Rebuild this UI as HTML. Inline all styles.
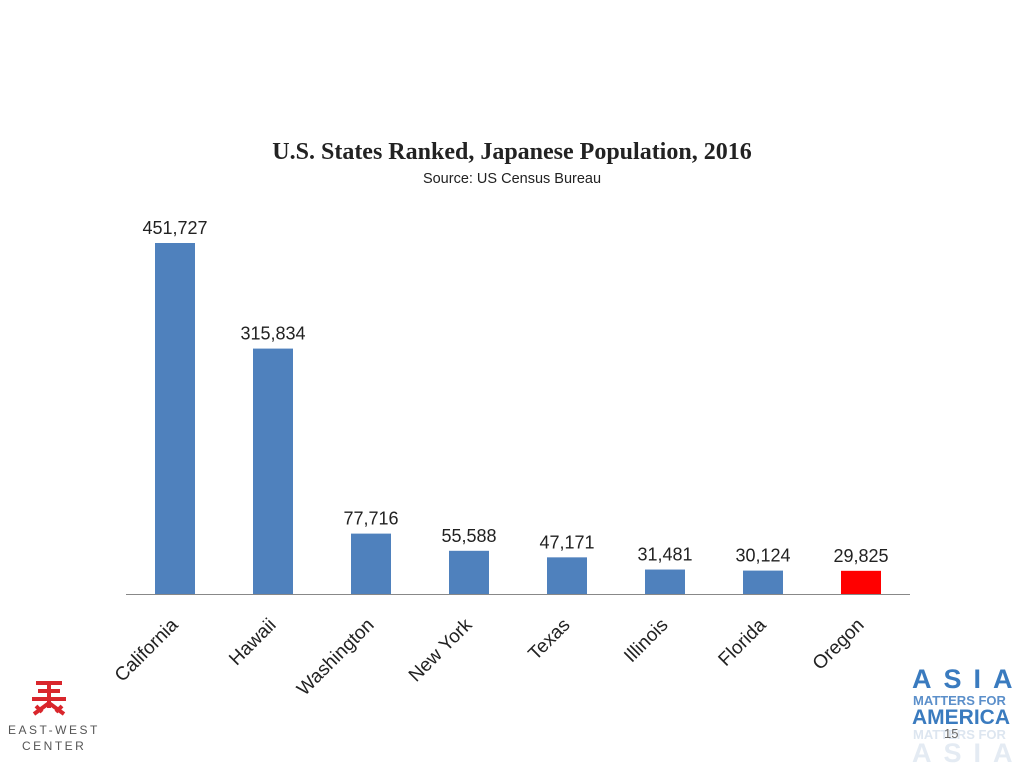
<!DOCTYPE html>
<html><head><meta charset="utf-8"><style>
body{margin:0;width:1024px;height:768px;background:#fff;font-family:"Liberation Sans",sans-serif;position:relative;overflow:hidden}
.t{position:absolute;white-space:nowrap}
</style></head><body>
<div class="t" style="left:0;width:1024px;top:139px;text-align:center;font-family:'Liberation Serif',serif;font-weight:bold;font-size:24px;color:#222">U.S. States Ranked, Japanese Population, 2016</div>
<div class="t" style="left:0;width:1024px;top:171px;text-align:center;font-size:14.5px;color:#222">Source: US Census Bureau</div>
<svg id="c" width="1024" height="768" style="position:absolute;left:0;top:0"></svg>
<div style="position:absolute;left:6px;top:678px;width:84px;height:75px">
<svg width="84" height="40" style="position:absolute;left:0;top:0"><g stroke="#d9262c" stroke-width="4" fill="none"><line x1="30" y1="5" x2="56" y2="5"/><line x1="32" y1="13" x2="54" y2="13"/><line x1="26" y1="21" x2="60" y2="21"/><line x1="43" y1="5" x2="43" y2="30"/><path d="M43 25 L28 36 M43 25 L58 36 M30 28 L36 34 M56 28 L50 34"/></g></svg>
<div class="t" style="left:2px;top:45px;font-size:12px;letter-spacing:2.5px;color:#555">EAST-WEST</div>
<div class="t" style="left:16px;top:61px;font-size:12px;letter-spacing:2.5px;color:#555">CENTER</div>
</div>
<div style="position:absolute;left:912px;top:664px;width:110px;font-weight:bold;color:#3a7bbf">
<div class="t" style="left:0;top:0;font-size:27px;letter-spacing:12px">ASIA</div>
<div class="t" style="left:1px;top:29px;font-size:13px;color:#5b8fca">MATTERS FOR</div>
<div class="t" style="left:0;top:42px;font-size:21px">AMERICA</div>
<div class="t" style="left:1px;top:63px;font-size:13px;color:#dde6f0">MATTERS FOR</div>
<div class="t" style="left:0;top:74px;font-size:27px;letter-spacing:12px;color:#e4ebf3">ASIA</div>
</div>
<div class="t" style="left:944px;top:726px;font-size:13px;color:#666">15</div>
<script>
const categories=["California","Hawaii","Washington","New York","Texas","Illinois","Florida","Oregon"];
const values=[451727,315834,77716,55588,47171,31481,30124,29825];
const labels=["451,727","315,834","77,716","55,588","47,171","31,481","30,124","29,825"];
const colors=["#4f81bd","#4f81bd","#4f81bd","#4f81bd","#4f81bd","#4f81bd","#4f81bd","#ff0000"];
const svg=document.getElementById('c');const NS="http://www.w3.org/2000/svg";
const x0=126,x1=910,base=594,ymax=451727,hmax=351;
const step=(x1-x0)/categories.length;
const xc=i=>x0+step*(i+0.5);
const yv=v=>base-v/ymax*hmax;
function mk(t,a){const e=document.createElementNS(NS,t);for(const k in a)e.setAttribute(k,a[k]);svg.appendChild(e);return e;}
const ax=mk('line',{x1:x0,x2:x1,y1:base+0.5,y2:base+0.5,stroke:'#888','stroke-width':1});


categories.forEach((c,i)=>{
 const r=mk('rect',{x:xc(i)-20,y:yv(values[i]),width:40,height:base-yv(values[i]),fill:colors[i]});
 
 
 const t=mk('text',{x:xc(i),y:yv(values[i])-9,'text-anchor':'middle','font-size':18,fill:'#222','font-family':'Liberation Sans, sans-serif'});
 t.textContent=labels[i];
 
 
 const l=mk('text',{x:0,y:0,'text-anchor':'end','font-size':19,fill:'#222','font-family':'Liberation Sans, sans-serif',transform:`translate(${xc(i)+4},${base+32}) rotate(-45)`});
 l.textContent=c;
 
 
});
</script>
</body></html>
